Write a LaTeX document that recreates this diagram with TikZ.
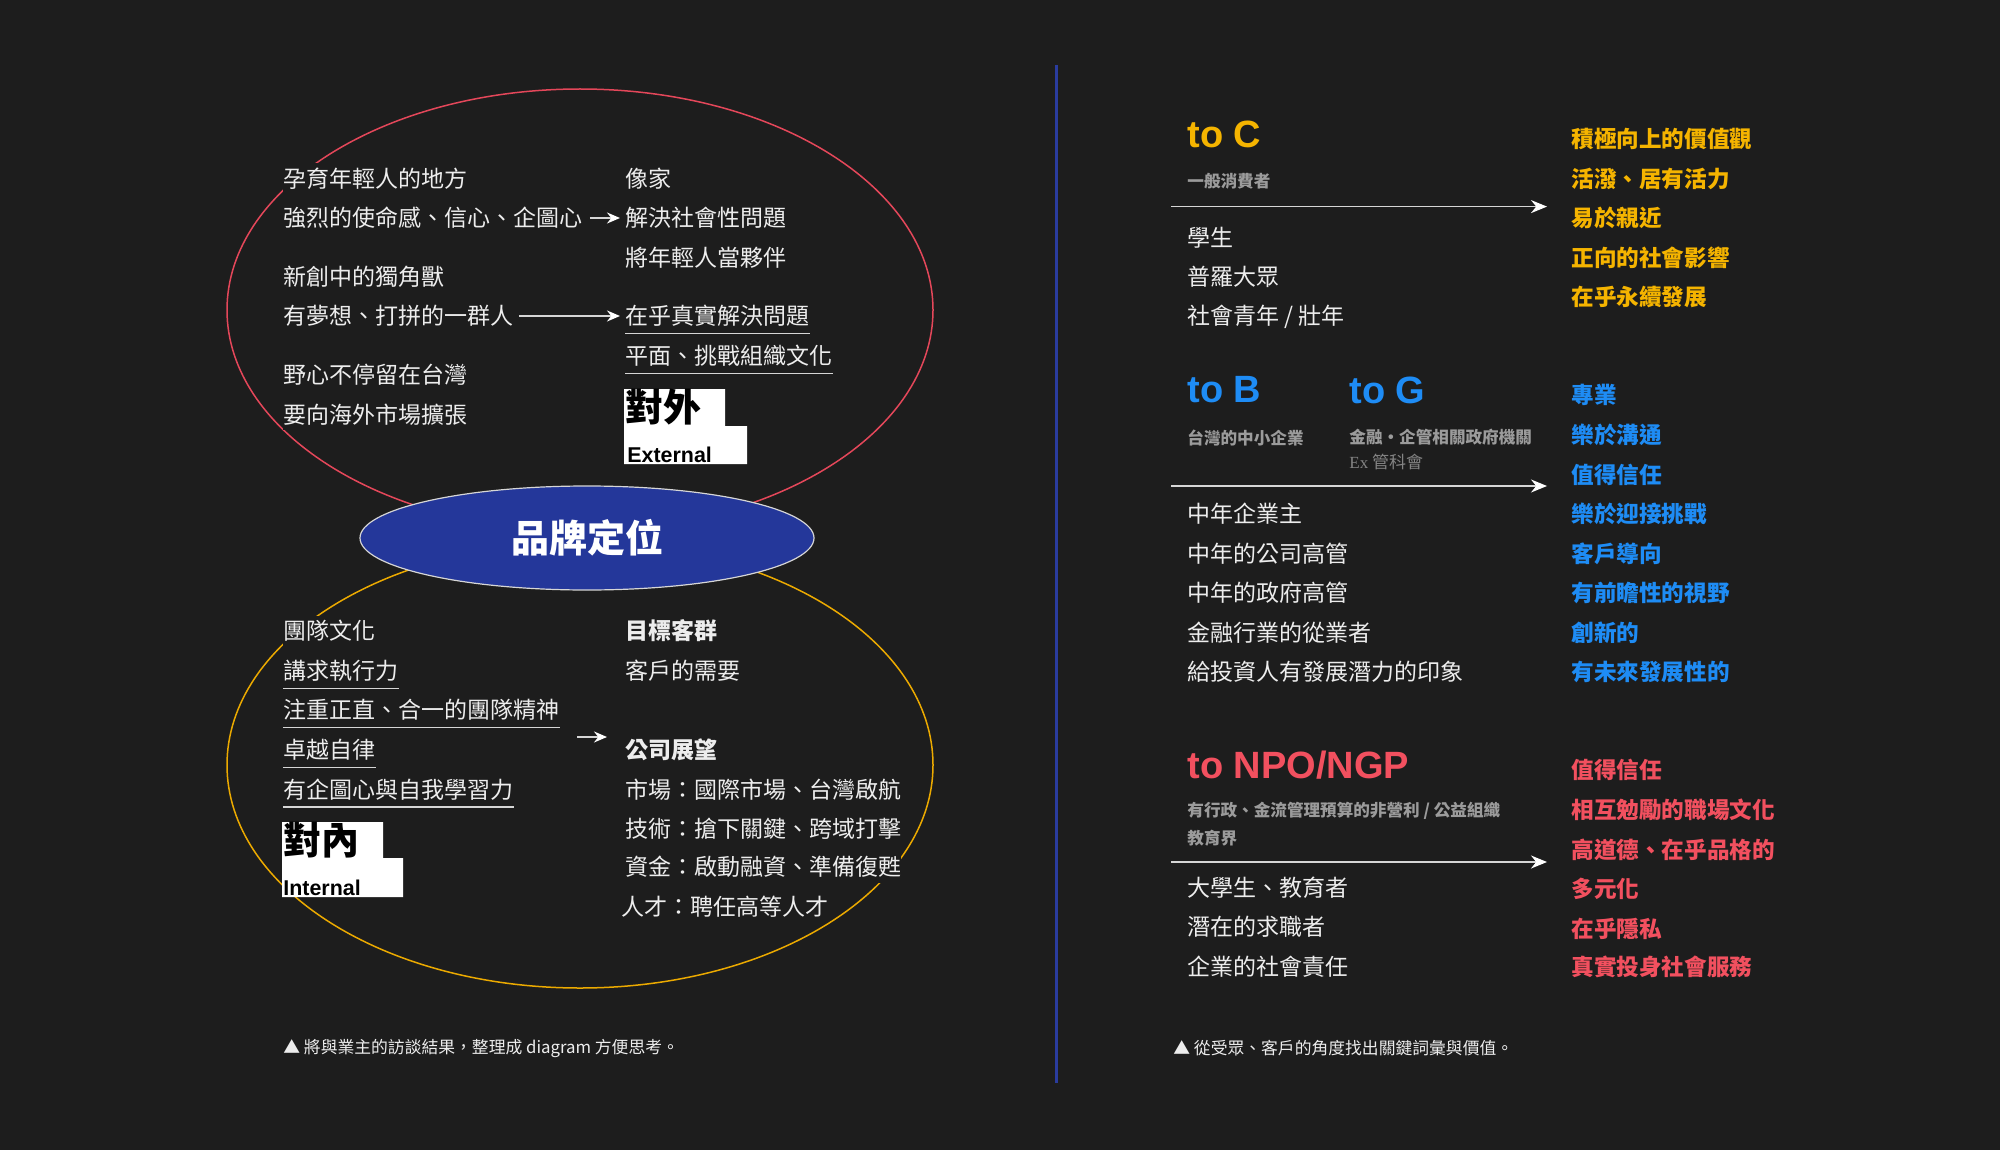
\documentclass[tikz,border=0pt]{standalone}
\usepackage{fontspec}
\setmainfont{Noto Sans CJK TC}
\newfontfamily\headfont{Liberation Sans}
\newfontfamily\exfont{Liberation Serif}
\usetikzlibrary{arrows.meta,positioning,shapes.geometric}

\definecolor{bg}{HTML}{1D1D1D}
\definecolor{ink}{HTML}{EDEDED}
\definecolor{mute}{HTML}{9B9B9B}
\definecolor{cyel}{HTML}{F5B400}
\definecolor{cblu}{HTML}{1E8CF5}
\definecolor{cred}{HTML}{F2505F}
\definecolor{ringred}{HTML}{E4475A}
\definecolor{ringyel}{HTML}{ECAA00}
\definecolor{brandblue}{HTML}{24379A}
\definecolor{divider}{HTML}{2A3C9E}
\definecolor{arr}{HTML}{D6D6D6}

\tikzset{
  >=Stealth,
  txt/.style={anchor=west, inner xsep=0pt, inner ysep=1pt, text height=11pt, text depth=2.5pt, fill=bg, text=ink, font=\fontsize{11.5pt}{14pt}\selectfont},
  bt/.style={txt, font=\fontsize{11.5pt}{14pt}\selectfont\bfseries},
  kw/.style={txt, font=\fontsize{11.3pt}{14pt}\selectfont\bfseries},
  gry/.style={anchor=west, inner sep=0pt, text=mute, font=\fontsize{8.3pt}{10pt}\selectfont\bfseries},
  aud/.style={anchor=west, inner sep=0pt, font=\headfont\bfseries\fontsize{19pt}{22pt}\selectfont},
  ul/.style={draw=arr, line width=0.8pt},
  tr/.style={-{Stealth[length=6.5pt,width=5.5pt,color=white]}, draw=arr, line width=0.8pt},
  longtr/.style={-{Stealth[length=8pt,width=6.5pt,color=white]}, draw=arr, line width=0.9pt, shorten >=12pt},
  ring/.style={line width=0.75pt},
  brand/.style={ellipse, fill=brandblue, draw=arr, line width=0.6pt, minimum width=227pt, minimum height=52pt, inner sep=0pt, text=white, font=\fontsize{19pt}{22pt}\selectfont\bfseries},
  tagbox/.style={fill=white},
  tagzh/.style={anchor=north west, inner sep=0pt, text=black, font=\fontsize{19pt}{22pt}\selectfont\bfseries},
  tagen/.style={anchor=base west, inner sep=0pt, text=black, font=\headfont\bfseries\fontsize{10.7pt}{12pt}\selectfont},
  foot/.style={anchor=west, inner sep=0pt, text=ink, font=\fontsize{8.4pt}{10pt}\selectfont}
}

\begin{document}
\begin{tikzpicture}[x=0.5pt, y=-0.5pt]

    \useasboundingbox (0,0) rectangle (2000,1150);
    \fill[bg] (0,0) rectangle (2000,1150);

    % Outer rings
    \draw[ring, ringred] (580,310) ellipse (353 and 221);
    \draw[ring, ringyel] (580,765) ellipse (353 and 223);

    % Brand
    \node[brand] (brand) at (587,538) {品牌定位};

    % External, left
    \node[txt] (el1) at (283,178.6) {孕育年輕人的地方};
    \node[txt] (el2) at (283,218) {強烈的使命感、信心、企圖心};
    \node[txt] (el3) at (283,277) {新創中的獨角獸};
    \node[txt] (el4) at (283,316) {有夢想、打拼的一群人};
    \node[txt] (el5) at (283,375) {野心不停留在台灣};
    \node[txt] (el6) at (283,414.5) {要向海外市場擴張};

    % External, right
    \node[txt] (er1) at (625,178.6) {像家};
    \node[txt] (er2) at (625,218) {解決社會性問題};
    \node[txt] (er3) at (625,257.7) {將年輕人當夥伴};
    \node[txt] (er4) at (625,316) {在乎真實解決問題};
    \node[txt] (er5) at (625,356) {平面、挑戰組織文化};
    \draw[ul] ([yshift=-0.8pt]er4.south west) -- ([yshift=-0.8pt]er4.south east);
    \draw[ul] ([yshift=-0.8pt]er5.south west) -- ([yshift=-0.8pt]er5.south east);

    \draw[tr, shorten <=3.5pt, shorten >=2.5pt] (el2.east) -- (er2.west);
    \draw[tr, shorten <=2.5pt, shorten >=2.5pt] (el4.east) -- (er4.west);

    % External tag
    \fill[tagbox] (624,389) -- (725,389) -- (725,426) -- (747,426) -- (747,464) -- (624,464) -- cycle;
    \node[tagzh] (extzh) at (625,389) {對外};
    \node[tagen] (exten) at (627,462) {External};

    % Internal, left
    \node[txt] (il1) at (283,631) {團隊文化};
    \node[txt] (il2) at (283,671) {講求執行力};
    \node[txt] (il3) at (283,710) {注重正直、合一的團隊精神};
    \node[txt] (il4) at (283,750) {卓越自律};
    \node[txt] (il5) at (283,789.5) {有企圖心與自我學習力};
    \foreach \n in {il2,il3,il4,il5}
        \draw[ul] ([yshift=-0.8pt]\n.south west) -- ([yshift=-0.8pt]\n.south east);

    % Internal, right
    \node[bt] (ir1) at (625,631) {目標客群};
    \node[txt] (ir2) at (625,671) {客戶的需要};
    \node[bt] (ir3) at (625,750) {公司展望};
    \node[txt] (ir4) at (625,789.5) {市場：國際市場、台灣啟航};
    \node[txt] (ir5) at (625,829) {技術：搶下關鍵、跨域打擊};
    \node[txt] (ir6) at (625,867) {資金：啟動融資、準備復甦};
    \node[txt] (ir7) at (621,907) {人才：聘任高等人才};

    \coordinate (a3) at (577,737);
    \draw[tr, shorten >=9pt] (a3) -- (a3 -| ir3.west);

    % Internal tag
    \fill[tagbox] (282,822) -- (383,822) -- (383,858) -- (403,858) -- (403,897) -- (282,897) -- cycle;
    \node[tagzh] (intzh) at (283,822) {對內};
    \node[tagen] (inten) at (283,895) {Internal};

    \node[foot] (fl) at (283,1048.5) {▲ 將與業主的訪談結果，整理成 diagram 方便思考。};

    % Divider
    \draw[divider, line width=1.5pt] (1056,65) -- (1056,1083);

    % to C
    \node[aud, text=cyel] (toC) at (1187,134) {to C};
    \node[gry] (toCs) at (1187,181) {一般消費者};
    \coordinate (sC) at (1171,206.6);
    \node[txt] (c1) at (1187,238.5) {學生};
    \node[txt] (c2) at (1187,277) {普羅大眾};
    \node[txt] (c3) at (1187,316) {社會青年 / 壯年};
    \node[kw, text=cyel] (cv1) at (1571,139) {積極向上的價值觀};
    \node[kw, text=cyel] (cv2) at (1571,178.6) {活潑、居有活力};
    \node[kw, text=cyel] (cv3) at (1571,218) {易於親近};
    \node[kw, text=cyel] (cv4) at (1571,257.7) {正向的社會影響};
    \node[kw, text=cyel] (cv5) at (1571,297) {在乎永續發展};
    \draw[longtr] (sC) -- (sC -| cv1.west);

    % to B / to G
    \node[aud, text=cblu] (toB) at (1187,390) {to B};
    \node[aud, text=cblu] (toG) at (1349,390) {to G};
    \node[gry] (toBs) at (1187,437.5) {台灣的中小企業};
    \node[gry] (toGs) at (1349,437.5) {金融‧企管相關政府機關};
    \node[gry, font=\fontsize{8.5pt}{10pt}\selectfont, text=mute!85!black] (toGx) at (1349,462) {{\exfont Ex} 管科會};
    \coordinate (sB) at (1171,486);
    \node[txt] (b1) at (1187,514) {中年企業主};
    \node[txt] (b2) at (1187,553.6) {中年的公司高管};
    \node[txt] (b3) at (1187,593) {中年的政府高管};
    \node[txt] (b4) at (1187,632.6) {金融行業的從業者};
    \node[txt] (b5) at (1187,672) {給投資人有發展潛力的印象};
    \node[kw, text=cblu] (bv1) at (1571,395.4) {專業};
    \node[kw, text=cblu] (bv2) at (1571,435) {樂於溝通};
    \node[kw, text=cblu] (bv3) at (1571,474.5) {值得信任};
    \node[kw, text=cblu] (bv4) at (1571,514) {樂於迎接挑戰};
    \node[kw, text=cblu] (bv5) at (1571,553.6) {客戶導向};
    \node[kw, text=cblu] (bv6) at (1571,593) {有前瞻性的視野};
    \node[kw, text=cblu] (bv7) at (1571,632.6) {創新的};
    \node[kw, text=cblu] (bv8) at (1571,672) {有未來發展性的};
    \draw[longtr] (sB) -- (sB -| bv1.west);

    % to NPO/NGP
    \node[aud, text=cred] (toN) at (1187,765) {to NPO/NGP};
    \node[gry] (toNs) at (1187,811) {有行政、金流管理預算的非營利 / 公益組織};
    \node[gry] (toNt) at (1187,838) {教育界};
    \coordinate (sN) at (1171,862);
    \node[txt] (n1) at (1187,888) {大學生、教育者};
    \node[txt] (n2) at (1187,927) {潛在的求職者};
    \node[txt] (n3) at (1187,967) {企業的社會責任};
    \node[kw, text=cred] (nv1) at (1571,770) {值得信任};
    \node[kw, text=cred] (nv2) at (1571,810) {相互勉勵的職場文化};
    \node[kw, text=cred] (nv3) at (1571,849.5) {高道德、在乎品格的};
    \node[kw, text=cred] (nv4) at (1571,889) {多元化};
    \node[kw, text=cred] (nv5) at (1571,928.6) {在乎隱私};
    \node[kw, text=cred] (nv6) at (1571,967) {真實投身社會服務};
    \draw[longtr] (sN) -- (sN -| nv1.west);

    \node[foot] (fr) at (1173,1048.5) {▲ 從受眾、客戶的角度找出關鍵詞彙與價值。};

\end{tikzpicture}
\end{document}
